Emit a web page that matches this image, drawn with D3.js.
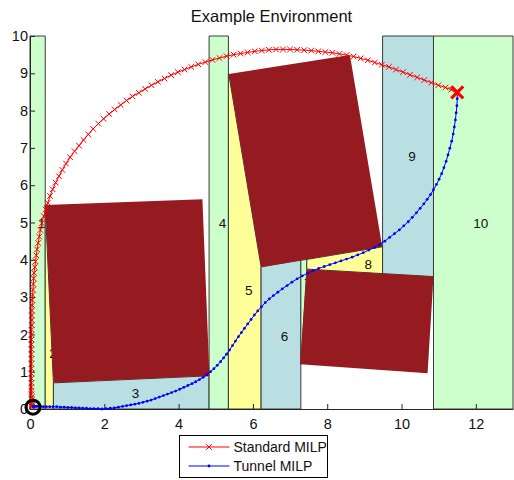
<!DOCTYPE html>
<html>
<head>
<meta charset="utf-8">
<script src="https://cdn.jsdelivr.net/npm/d3@7"></script>
<style>
  body { margin: 0; background: #fff; }
  svg { font-family: "Liberation Sans", Arial, sans-serif; }
</style>
</head>
<body>
<div id="chart"></div>
<script>
(function () {
  "use strict";

  // region polygons (x, y in metres) and their labels
  var regionNames = ["1", "2", "3", "4", "5", "6", "7", "8", "9", "10"];
  var regionPolys = [
    [[0, 0], [0.41, 0], [0.41, 10], [0, 10]],
    [[0.41, 0], [0.63, 0], [0.63, 0.7], [0.41, 5.47]],
    [[0.63, 0], [4.82, 0], [4.82, 0.89], [0.63, 0.7]],
    [[4.82, 0], [5.34, 0], [5.34, 10], [4.82, 10]],
    [[5.34, 0], [6.22, 0], [6.22, 3.81], [5.35, 8.98], [5.34, 8.98]],
    [[6.22, 0], [7.29, 0], [7.29, 3.99], [6.22, 3.81]],
    [[7.29, 1.2], [7.29, 3.99], [7.45, 4.01], [7.45, 3.75]],
    [[7.45, 3.75], [9.49, 3.63], [9.49, 4.35], [7.45, 4.01]],
    [[9.49, 3.63], [10.86, 3.55], [10.86, 10], [9.49, 10]],
    [[10.86, 0], [13, 0], [13, 10], [10.86, 10]]
  ];
  var labelPoints = [
    [0.21, 4.98], [0.52, 1.49], [2.74, 0.42], [5.08, 4.98], [5.79, 3.19],
    [6.75, 1.94], [7.38, 3.38], [9.0, 3.88], [10.18, 6.78], [11.93, 4.98]
  ];
  var obstacles = [
    [[0.41, 5.47], [4.64, 5.62], [4.83, 0.89], [0.63, 0.705]],
    [[5.35, 8.98], [8.61, 9.49], [9.48, 4.35], [6.22, 3.81]],
    [[7.45, 3.75], [10.86, 3.55], [10.7, 0.96], [7.27, 1.2]]
  ];

  var standardMilp = [
    [0.05,0.06],[0.05,0.07],[0.05,0.1],[0.05,0.14],[0.05,0.19],[0.05,0.25],[0.05,0.32],[0.04,0.4],
    [0.04,0.49],[0.04,0.59],[0.04,0.7],[0.04,0.82],[0.04,0.95],[0.04,1.08],[0.04,1.21],[0.04,1.34],
    [0.04,1.47],[0.04,1.6],[0.04,1.73],[0.04,1.86],[0.04,1.99],[0.04,2.12],[0.05,2.25],[0.05,2.38],
    [0.05,2.51],[0.05,2.64],[0.06,2.78],[0.06,2.92],[0.07,3.06],[0.08,3.2],[0.09,3.35],[0.1,3.5],
    [0.11,3.65],[0.13,3.8],[0.15,3.96],[0.17,4.12],[0.19,4.28],[0.22,4.45],[0.25,4.62],[0.28,4.8],
    [0.32,4.98],[0.37,5.17],[0.42,5.35],[0.48,5.53],[0.54,5.71],[0.61,5.89],[0.69,6.07],[0.78,6.24],
    [0.87,6.41],[0.97,6.58],[1.08,6.75],[1.2,6.91],[1.32,7.06],[1.44,7.21],[1.57,7.36],[1.7,7.51],
    [1.84,7.65],[1.98,7.78],[2.13,7.91],[2.28,8.03],[2.44,8.15],[2.6,8.27],[2.76,8.38],[2.93,8.48],
    [3.1,8.58],[3.27,8.68],[3.44,8.77],[3.62,8.86],[3.8,8.95],[3.98,9.03],[4.16,9.1],[4.34,9.17],
    [4.53,9.24],[4.72,9.3],[4.91,9.36],[5.1,9.41],[5.29,9.46],[5.48,9.5],[5.67,9.53],[5.86,9.56],
    [6.05,9.59],[6.24,9.61],[6.43,9.63],[6.62,9.64],[6.81,9.64],[7.0,9.64],[7.19,9.63],[7.38,9.62],
    [7.57,9.61],[7.76,9.59],[7.95,9.57],[8.14,9.55],[8.33,9.52],[8.52,9.49],[8.71,9.45],[8.9,9.4],
    [9.09,9.35],[9.28,9.29],[9.47,9.23],[9.66,9.17],[9.85,9.1],[10.04,9.03],[10.23,8.96],[10.42,8.89],
    [10.61,8.82],[10.8,8.75],[10.99,8.68],[11.18,8.62],[11.34,8.56],[11.5,8.49]
  ];

  var tunnelMilp = [
    [0.08,0.07],[0.09,0.07],[0.11,0.07],[0.14,0.07],[0.18,0.07],[0.23,0.07],[0.29,0.07],[0.36,0.06],
    [0.44,0.06],[0.53,0.06],[0.62,0.06],[0.72,0.06],[0.82,0.05],[0.92,0.05],[1.02,0.04],[1.12,0.04],
    [1.22,0.03],[1.32,0.03],[1.42,0.02],[1.52,0.02],[1.62,0.01],[1.72,0.01],[1.83,0.01],[1.94,0.0],
    [2.05,0.01],[2.16,0.02],[2.27,0.03],[2.38,0.05],[2.49,0.07],[2.6,0.09],[2.71,0.11],[2.82,0.13],
    [2.93,0.15],[3.04,0.18],[3.15,0.21],[3.26,0.24],[3.37,0.28],[3.48,0.32],[3.59,0.36],[3.7,0.4],
    [3.81,0.44],[3.92,0.48],[4.03,0.53],[4.14,0.58],[4.25,0.63],[4.36,0.68],[4.46,0.73],[4.56,0.79],
    [4.66,0.85],[4.76,0.92],[4.86,1.0],[4.95,1.08],[5.04,1.17],[5.13,1.27],[5.21,1.37],[5.29,1.47],
    [5.37,1.58],[5.45,1.7],[5.53,1.82],[5.61,1.94],[5.69,2.05],[5.77,2.16],[5.86,2.28],[5.95,2.4],
    [6.04,2.52],[6.13,2.63],[6.23,2.74],[6.33,2.85],[6.44,2.95],[6.55,3.04],[6.67,3.13],[6.79,3.22],
    [6.92,3.31],[7.05,3.4],[7.19,3.49],[7.33,3.57],[7.47,3.64],[7.62,3.71],[7.77,3.77],[7.92,3.82],
    [8.07,3.87],[8.22,3.92],[8.37,3.97],[8.52,4.02],[8.67,4.07],[8.82,4.13],[8.97,4.19],[9.12,4.26],
    [9.27,4.33],[9.41,4.41],[9.55,4.5],[9.68,4.6],[9.81,4.7],[9.94,4.8],[10.06,4.91],[10.18,5.02],
    [10.29,5.14],[10.4,5.26],[10.5,5.38],[10.6,5.5],[10.69,5.62],[10.78,5.75],[10.86,5.88],[10.94,6.02],
    [11.01,6.16],[11.08,6.31],[11.14,6.47],[11.2,6.64],[11.25,6.81],[11.3,6.99],[11.35,7.18],[11.39,7.37],
    [11.42,7.56],[11.45,7.75],[11.47,7.94],[11.49,8.13],[11.5,8.32],[11.5,8.49]
  ];

  var startPoint = [0.08, 0.05];
  var goalPoint = [11.5, 8.49];

  var xTicks = [0, 2, 4, 6, 8, 10, 12];
  var yTicks = [0, 1, 2, 3, 4, 5, 6, 7, 8, 9, 10];
  var seriesNames = ["Standard MILP", "Tunnel MILP"];

  var regionColors = ["#ccffcc", "#ffff99", "#badfe3"];

  var width = 514, height = 480;
  var margin = { top: 36, right: 1, bottom: 71, left: 30 };

  var svg = d3.select("#chart").append("svg")
    .attr("width", width)
    .attr("height", height);

  var x = d3.scaleLinear().domain([0, 13]).range([margin.left, width - margin.right]);
  var y = d3.scaleLinear().domain([0, 10]).range([height - margin.bottom, margin.top]);

  var poly = function (pts) {
    return "M" + pts.map(function (p) { return x(p[0]) + "," + y(p[1]); }).join("L") + "Z";
  };

  // regions
  svg.append("g").selectAll("path")
    .data(regionPolys)
    .enter().append("path")
    .attr("d", poly)
    .attr("fill", function (d, i) { return regionColors[i % 3]; })
    .attr("stroke", "#3a3a3a")
    .attr("stroke-width", 1);

  svg.append("g").selectAll("text")
    .data(labelPoints)
    .enter().append("text")
    .attr("x", function (d) { return x(d[0]); })
    .attr("y", function (d) { return y(d[1]); })
    .attr("dy", "0.35em")
    .attr("font-size", 13.5)
    .attr("fill", "#111")
    .text(function (d, i) { return regionNames[i]; });

  // obstacles
  svg.append("g").selectAll("path")
    .data(obstacles)
    .enter().append("path")
    .attr("d", poly)
    .attr("fill", "#961b21");

  // axes (ticks pointing inward, like matlab)
  var xAxis = svg.append("g")
    .attr("transform", "translate(0," + y(0) + ")")
    .call(d3.axisBottom(x).tickValues(xTicks).tickSizeInner(-5).tickSizeOuter(0).tickPadding(10));
  var yAxis = svg.append("g")
    .attr("transform", "translate(" + x(0) + ",0)")
    .call(d3.axisLeft(y).tickValues(yTicks).tickSizeInner(-5).tickSizeOuter(0).tickPadding(2));
  [xAxis, yAxis].forEach(function (a) {
    a.select(".domain").attr("stroke", "#262626");
    a.selectAll(".tick line").attr("stroke", "#262626");
    a.selectAll(".tick text").attr("font-size", 14.5).attr("fill", "#111")
      .attr("font-family", "'Liberation Sans', Arial, sans-serif");
  });

  // paths
  var line = d3.line()
    .x(function (d) { return x(d[0]); })
    .y(function (d) { return y(d[1]); });

  var crossPath = function (s) {
    return "M" + (-s) + "," + (-s) + "L" + s + "," + s + "M" + (-s) + "," + s + "L" + s + "," + (-s);
  };

  svg.append("path")
    .datum(standardMilp)
    .attr("d", line)
    .attr("fill", "none")
    .attr("stroke", "#ff0000")
    .attr("stroke-width", 1);
  svg.append("g").selectAll("path")
    .data(standardMilp)
    .enter().append("path")
    .attr("transform", function (d) { return "translate(" + x(d[0]) + "," + y(d[1]) + ")"; })
    .attr("d", crossPath(2.8))
    .attr("stroke", "#ff0000")
    .attr("stroke-width", 1);

  svg.append("path")
    .datum(tunnelMilp)
    .attr("d", line)
    .attr("fill", "none")
    .attr("stroke", "#0000ff")
    .attr("stroke-width", 1);
  svg.append("g").selectAll("circle")
    .data(tunnelMilp)
    .enter().append("circle")
    .attr("cx", function (d) { return x(d[0]); })
    .attr("cy", function (d) { return y(d[1]); })
    .attr("r", 1.4)
    .attr("fill", "#0000ff");

  // start and goal
  svg.append("circle")
    .attr("cx", x(startPoint[0]))
    .attr("cy", y(startPoint[1]))
    .attr("r", 7)
    .attr("fill", "none")
    .attr("stroke", "#000")
    .attr("stroke-width", 3);
  svg.append("path")
    .attr("transform", "translate(" + x(goalPoint[0]) + "," + y(goalPoint[1]) + ")")
    .attr("d", crossPath(6))
    .attr("stroke", "#ff0000")
    .attr("stroke-width", 3.2);

  // title
  svg.append("text")
    .attr("x", (x(0) + x(13)) / 2)
    .attr("y", 22)
    .attr("text-anchor", "middle")
    .attr("font-size", 16.5)
    .attr("fill", "#111")
    .text("Example Environment");

  // legend
  var lg = svg.append("g").attr("transform", "translate(179.5,435.5)");
  lg.append("rect")
    .attr("width", 148)
    .attr("height", 42)
    .attr("fill", "#fff")
    .attr("stroke", "#000")
    .attr("stroke-width", 1);
  var colors = ["#ff0000", "#0000ff"];
  seriesNames.forEach(function (name, i) {
    var yy = 11.5 + i * 19;
    lg.append("line")
      .attr("x1", 9).attr("x2", 50)
      .attr("y1", yy).attr("y2", yy)
      .attr("stroke", colors[i]);
    if (i === 0) {
      lg.append("path")
        .attr("transform", "translate(29.5," + yy + ")")
        .attr("d", crossPath(2.8))
        .attr("stroke", colors[i]);
    } else {
      lg.append("circle").attr("cx", 29.5).attr("cy", yy).attr("r", 1.4).attr("fill", colors[i]);
    }
    lg.append("text")
      .attr("x", 54)
      .attr("y", yy)
      .attr("dy", "0.35em")
      .attr("font-size", 14)
      .attr("fill", "#111")
      .text(name);
  });
})();
</script>
</body>
</html>
